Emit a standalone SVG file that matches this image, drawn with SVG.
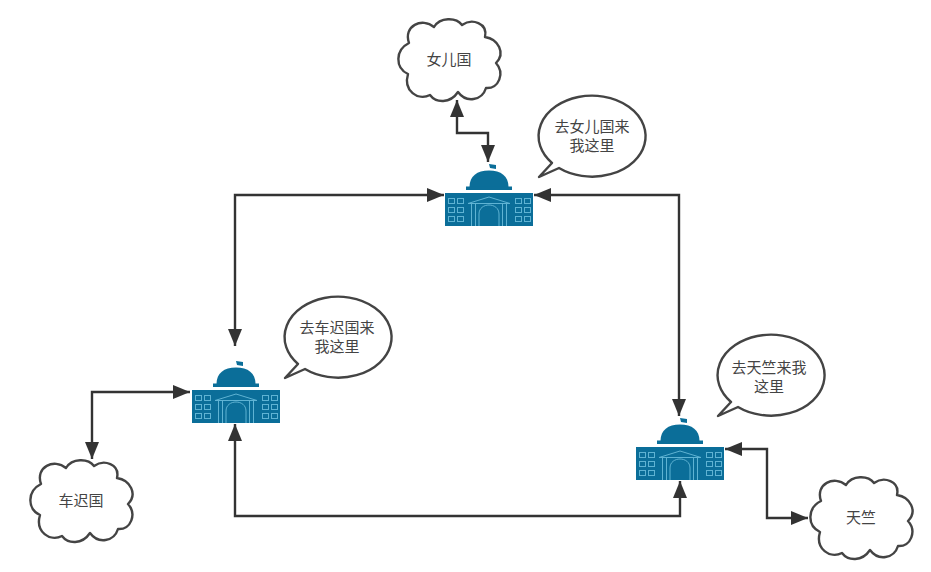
<svg xmlns="http://www.w3.org/2000/svg" xmlns:xlink="http://www.w3.org/1999/xlink" width="931" height="572" viewBox="0 0 931 572">
  <style>
    .edge { fill: none; stroke: #333; stroke-width: 2.4; marker-start: url(#head); marker-end: url(#head); }
    .outline { fill: #fff; stroke: #444; stroke-width: 2.4; stroke-linejoin: round; }
    .label { font-family: "Noto Sans CJK SC", "Liberation Sans", sans-serif; font-size: 15px; fill: #444; text-anchor: middle; }
    .hall { fill: #0b6e99; }
    .trim { fill: none; stroke: #5fb3d3; stroke-width: 1; }
  </style>
  <defs>
    <marker id="head" markerUnits="userSpaceOnUse" markerWidth="18" markerHeight="16" refX="17" refY="8" orient="auto-start-reverse">
      <path d="M0,1 L17,8 L0,15 Z" fill="#333"/>
    </marker>
    <path id="cloud" d="M11,23 C5,6 24,-3 36,7 C42,-3 58,-3 64,5 C74,-2 90,3 87,17 C100,19 108,33 98,43 C107,53 101,69 88,68 C84,81 68,83 60,72 C52,84 38,83 32,75 C20,81 5,71 10,54 C-3,48 -3,30 11,23 Z"/>
    <path id="bubble" d="M12,65 A53.500,40.500 0 1 1 19,70 L-1,79 Z"/>
    <g id="hall">
      <rect class="hall" x="0" y="0" width="88" height="33"/>
      <path class="hall" d="M24.500,-6 C24.500,-17 32,-22.500 44,-22.500 C56,-22.500 63.500,-17 63.500,-6 Z"/>
      <rect class="hall" x="21" y="-6.500" width="46" height="3.500"/>
      <path class="hall" d="M44,-29 L51,-28 L51,-24 L45,-25 Z"/>
      <g class="trim">
        <rect x="3.500" y="5.500" width="6" height="5"/><rect x="12.500" y="5.500" width="6" height="5"/>
        <rect x="3.500" y="14.500" width="6" height="5"/><rect x="12.500" y="14.500" width="6" height="5"/>
        <rect x="3.500" y="23.500" width="6" height="5"/><rect x="12.500" y="23.500" width="6" height="5"/>
        <rect x="70.500" y="5.500" width="6" height="5"/><rect x="79.500" y="5.500" width="6" height="5"/>
        <rect x="70.500" y="14.500" width="6" height="5"/><rect x="79.500" y="14.500" width="6" height="5"/>
        <rect x="70.500" y="23.500" width="6" height="5"/><rect x="79.500" y="23.500" width="6" height="5"/>
        <path d="M23,10.500 L44,4 L65,10.500 Z"/>
        <path d="M26.500,11 V33 M30.500,11 V33 M57.500,11 V33 M61.500,11 V33"/>
        <path d="M34,33 V21 C34,9 54,9 54,21 V33"/>
      </g>
    </g>
  </defs>

  <g id="connectors">
    <path class="edge" d="M235,346 V195 H444"/>
    <path class="edge" d="M534,195 H679 V416"/>
    <path class="edge" d="M235,424 V516 H680 V481"/>
    <path class="edge" d="M457,100 V133 H488 V162"/>
    <path class="edge" d="M92,459 V392 H190"/>
    <path class="edge" d="M725,449 H767 V518 H808"/>
  </g>

  <g id="hall-top"><use xlink:href="#hall" href="#hall" x="445" y="193"/></g>
  <g id="hall-left"><use xlink:href="#hall" href="#hall" x="192" y="390"/></g>
  <g id="hall-right"><use xlink:href="#hall" href="#hall" x="636" y="447"/></g>

  <g id="cloud-top">
    <use class="outline" xlink:href="#cloud" href="#cloud" x="398" y="20"/>
    <text class="label" x="449" y="65">女儿国</text>
  </g>
  <g id="cloud-left">
    <use class="outline" xlink:href="#cloud" href="#cloud" x="30" y="461"/>
    <text class="label" x="81" y="506">车迟国</text>
  </g>
  <g id="cloud-right">
    <use class="outline" xlink:href="#cloud" href="#cloud" x="810" y="478"/>
    <text class="label" x="861" y="523">天竺</text>
  </g>

  <g id="bubble-top">
    <use class="outline" xlink:href="#bubble" href="#bubble" x="540" y="98"/>
    <text class="label" x="592" y="132">去女儿国来</text>
    <text class="label" x="592" y="151">我这里</text>
  </g>
  <g id="bubble-left">
    <use class="outline" xlink:href="#bubble" href="#bubble" x="286" y="299"/>
    <text class="label" x="337" y="333">去车迟国来</text>
    <text class="label" x="337" y="352">我这里</text>
  </g>
  <g id="bubble-right">
    <use class="outline" xlink:href="#bubble" href="#bubble" x="719" y="337"/>
    <text class="label" x="769" y="373">去天竺来我</text>
    <text class="label" x="769" y="392">这里</text>
  </g>
</svg>
